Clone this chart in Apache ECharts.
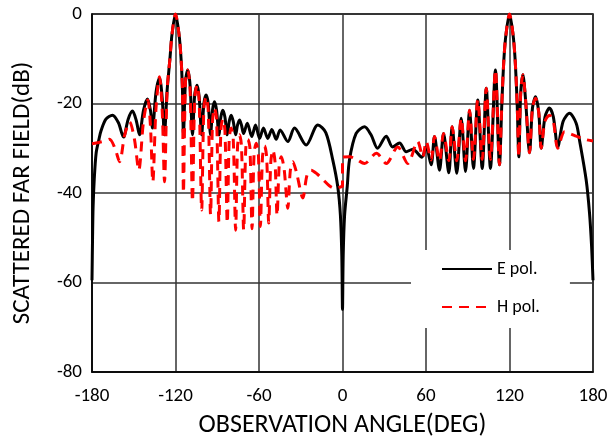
<!DOCTYPE html>
<html>
<head>
<meta charset="utf-8">
<script src="https://cdn.jsdelivr.net/npm/echarts@6/dist/echarts.min.js"></script>
<style>html,body{margin:0;padding:0;background:#fff}#chart{width:609px;height:438px}</style>
</head>
<body>
<div id="chart"></div>
<script>
// E pol. (solid black)
const ePolAngle = [-180,-179.6,-179.2,-178.4,-177,-175,-173.4,-170,-165.3,-161,-157.4,-154,-150.9,-148.2,-145.9,-143,-140.1,-138,-136.5,-134,-131.5,-129.5,-128,-126,-124,-122.5,-120,-117.5,-116,-115,-114.3,-112.8,-111.2,-109.5,-107.8,-106.2,-104.5,-103,-101.2,-99.6,-98,-96.5,-94.8,-93.4,-92,-90.5,-88.8,-87.4,-86,-84.5,-82.8,-81.4,-80,-78.5,-76.8,-75.4,-74,-72.6,-71.1,-68.4,-65.2,-62.5,-59.6,-56.8,-53.7,-50.8,-47.6,-44.8,-39.3,-34.5,-26.1,-17.7,-12,-7,-3.4,-1.5,-0.5,0,0.5,1.5,3.4,5,9.8,15.8,20.5,25.2,31.4,36,41,45.8,50.5,57,60.1,63.7,66.1,69.7,72.6,76.4,78.8,82.1,85.3,88.4,91.3,94.1,97.2,100.4,103.3,106.3,109.9,112.8,114.5,116,117.5,120,122.5,124,125.5,126.7,128,129.6,131.5,134.4,136.5,138.7,141,142.8,145.5,148.7,151.5,154.7,158.5,163.1,167.9,170.3,175.1,177.5,179,180];
const ePolDb = [-59.5,-50,-43,-37,-31,-28,-26,-23.5,-22.6,-24.3,-27.5,-23.5,-21.7,-23.8,-27,-21.5,-19,-21.5,-25.5,-17.5,-14.3,-19,-27,-17,-10,-4.5,0,-4.5,-10,-17,-27,-15,-12.5,-16,-27,-18,-15.9,-18.5,-27,-20,-18.1,-20,-27,-21.5,-19.6,-21.5,-27,-23,-21.5,-23,-27,-24,-22.6,-24,-27,-24.8,-23.7,-24.8,-26.7,-24.4,-27.4,-24.8,-27.8,-25.5,-27.8,-25.8,-28,-25.9,-28.5,-25.5,-29.3,-24.8,-26.5,-32.6,-38.6,-45,-54,-66,-54,-45,-38.6,-32.6,-26.7,-25.2,-27,-30,-27.3,-29.7,-28.8,-30.8,-30.2,-32,-29.7,-33.7,-27.4,-34.9,-26.7,-35.5,-25.2,-35.6,-23.3,-35.2,-21.5,-34.5,-19.2,-34.5,-16.6,-34.5,-12.5,-33.7,-20,-10,-4.5,0,-4.5,-10,-20,-31.9,-18,-13.6,-19,-31,-21,-18.5,-22,-30,-23,-21,-23,-29.7,-24,-22.2,-24.4,-28.2,-37.1,-44.5,-52,-59.5];

// H pol. (dashed red)
const hPolAngle = [-180,-175,-170,-167.4,-163.5,-160.2,-156.5,-153,-149.5,-146.4,-143,-139.9,-138,-136.3,-134,-131.5,-129.5,-127.9,-126,-124,-122.5,-120,-117.5,-116,-115,-114.3,-112.8,-111.2,-109.5,-107.8,-106.2,-104.5,-103,-101.2,-99.6,-98,-96.5,-94.8,-93.4,-92,-90.5,-88.8,-87.4,-86,-84.5,-82.8,-81.4,-80,-78.5,-76.8,-75.4,-74,-72.6,-71,-69.5,-68,-66.5,-65,-63.5,-62,-60.5,-59,-57.5,-56,-54.5,-53,-51.5,-50,-48.5,-47,-45.5,-44,-42,-39.3,-37.5,-35.7,-33,-28.5,-25.5,-22.5,-18,-14,-9,-5,-1,0,0,5,10,15.8,24.4,31.4,39.7,46.9,54,57.7,60.1,63.7,66.1,69.7,72.6,76.4,78.8,82.1,85.3,88.4,91.3,94.1,97.2,100.4,103.3,106.3,109.9,112.8,114.5,116,117.5,120,122.5,124,125.5,126.7,128,129.6,131.5,134.4,136.5,138.7,141,142.8,145.5,148.7,151.5,154.7,159.6,164,168,174,180];
const hPolDb = [-29,-28.7,-28.3,-28,-30,-33,-27,-24.1,-28,-34.9,-24,-19.2,-25,-37.5,-21,-14,-22,-37.5,-17,-10,-4.5,0,-4.5,-10,-17,-40,-15,-12.5,-17,-41.9,-19,-15.9,-19.5,-43.8,-21,-18.5,-21.5,-44.8,-24,-21,-23.5,-46.4,-26,-23.5,-26,-46.7,-28,-25.5,-28,-48.3,-29.5,-27,-29.5,-48.3,-30,-28,-30,-48,-31,-28.9,-31,-47.5,-32,-29.5,-32,-46.7,-33,-30.4,-33,-45,-34,-31.9,-34.5,-43.4,-35,-33,-35.5,-41.1,-36,-34.9,-35.8,-37,-38.5,-39,-38.6,-38.5,-32,-31.9,-32.5,-33.4,-31.1,-33.4,-29.7,-33.4,-28.5,-32,-28.5,-32.6,-27.4,-32.8,-26.7,-32.8,-25.2,-32.8,-23.3,-32.8,-21.5,-32.5,-19.2,-32.5,-16.6,-32.5,-12.5,-33.7,-20,-10,-4.5,0,-4.5,-10,-20,-31.9,-18,-13.6,-19,-31,-21,-18.8,-22,-30,-24,-22.6,-24,-30,-26.3,-26.8,-27.3,-28,-28.4];

const xTicks = [-180, -120, -60, 0, 60, 120, 180];
const yTicks = [-80, -60, -40, -20, 0];

const zip = (a, b) => a.map((x, i) => [x, b[i]]);
const FONT = 'Carlito, Lato, "Open Sans", sans-serif';

const chart = echarts.init(document.getElementById('chart'), null, {renderer: 'canvas'});
chart.setOption({
  animation: false,
  backgroundColor: '#fff',
  grid: {left: 92, right: 16, top: 14, bottom: 66, show: true, borderColor: '#000', borderWidth: 1.5, containLabel: false, outerBoundsMode: 'none'},
  xAxis: {
    type: 'value', min: xTicks[0], max: xTicks[xTicks.length - 1], interval: 60,
    name: 'OBSERVATION ANGLE(DEG)', nameLocation: 'middle', nameGap: 40,
    nameTextStyle: {fontFamily: FONT, fontSize: 26, color: '#000'},
    axisLine: {show: true, onZero: false, lineStyle: {color: '#000', width: 1.5}},
    axisTick: {show: false},
    axisLabel: {fontFamily: FONT, fontSize: 19, color: '#000', margin: 15},
    splitLine: {show: true, lineStyle: {color: '#333', width: 1.5}}
  },
  yAxis: {
    type: 'value', min: yTicks[0], max: yTicks[yTicks.length - 1], interval: 20,
    name: 'SCATTERED FAR FIELD(dB)', nameLocation: 'middle', nameGap: 57,
    nameTextStyle: {fontFamily: FONT, fontSize: 25, color: '#000'},
    axisLine: {show: true, onZero: false, lineStyle: {color: '#000', width: 1.5}},
    axisTick: {show: false},
    axisLabel: {fontFamily: FONT, fontSize: 19, color: '#000', margin: 10},
    splitLine: {show: true, lineStyle: {color: '#333', width: 1.5}}
  },
  legend: {
    orient: 'vertical', left: 411, top: 250,
    backgroundColor: '#fff',
    padding: [10, 30, 12, 30],
    itemWidth: 50, itemHeight: 14, itemGap: 20,
    itemStyle: {opacity: 0},
    textStyle: {fontFamily: FONT, fontSize: 18, color: '#000'},
    data: ['E pol.', 'H pol.']
  },
  series: [
    {name: 'E pol.', type: 'line', data: zip(ePolAngle, ePolDb), showSymbol: false, symbol: 'none', smooth: 0.3,
     lineStyle: {color: '#000', width: 3}, itemStyle: {color: '#000'}, z: 2},
    {name: 'H pol.', type: 'line', data: zip(hPolAngle, hPolDb), showSymbol: false, symbol: 'none', smooth: 0.3,
     lineStyle: {color: '#ff0000', width: 3, type: [10, 7]}, itemStyle: {color: '#ff0000'}, z: 3}
  ]
});
</script>
</body>
</html>
